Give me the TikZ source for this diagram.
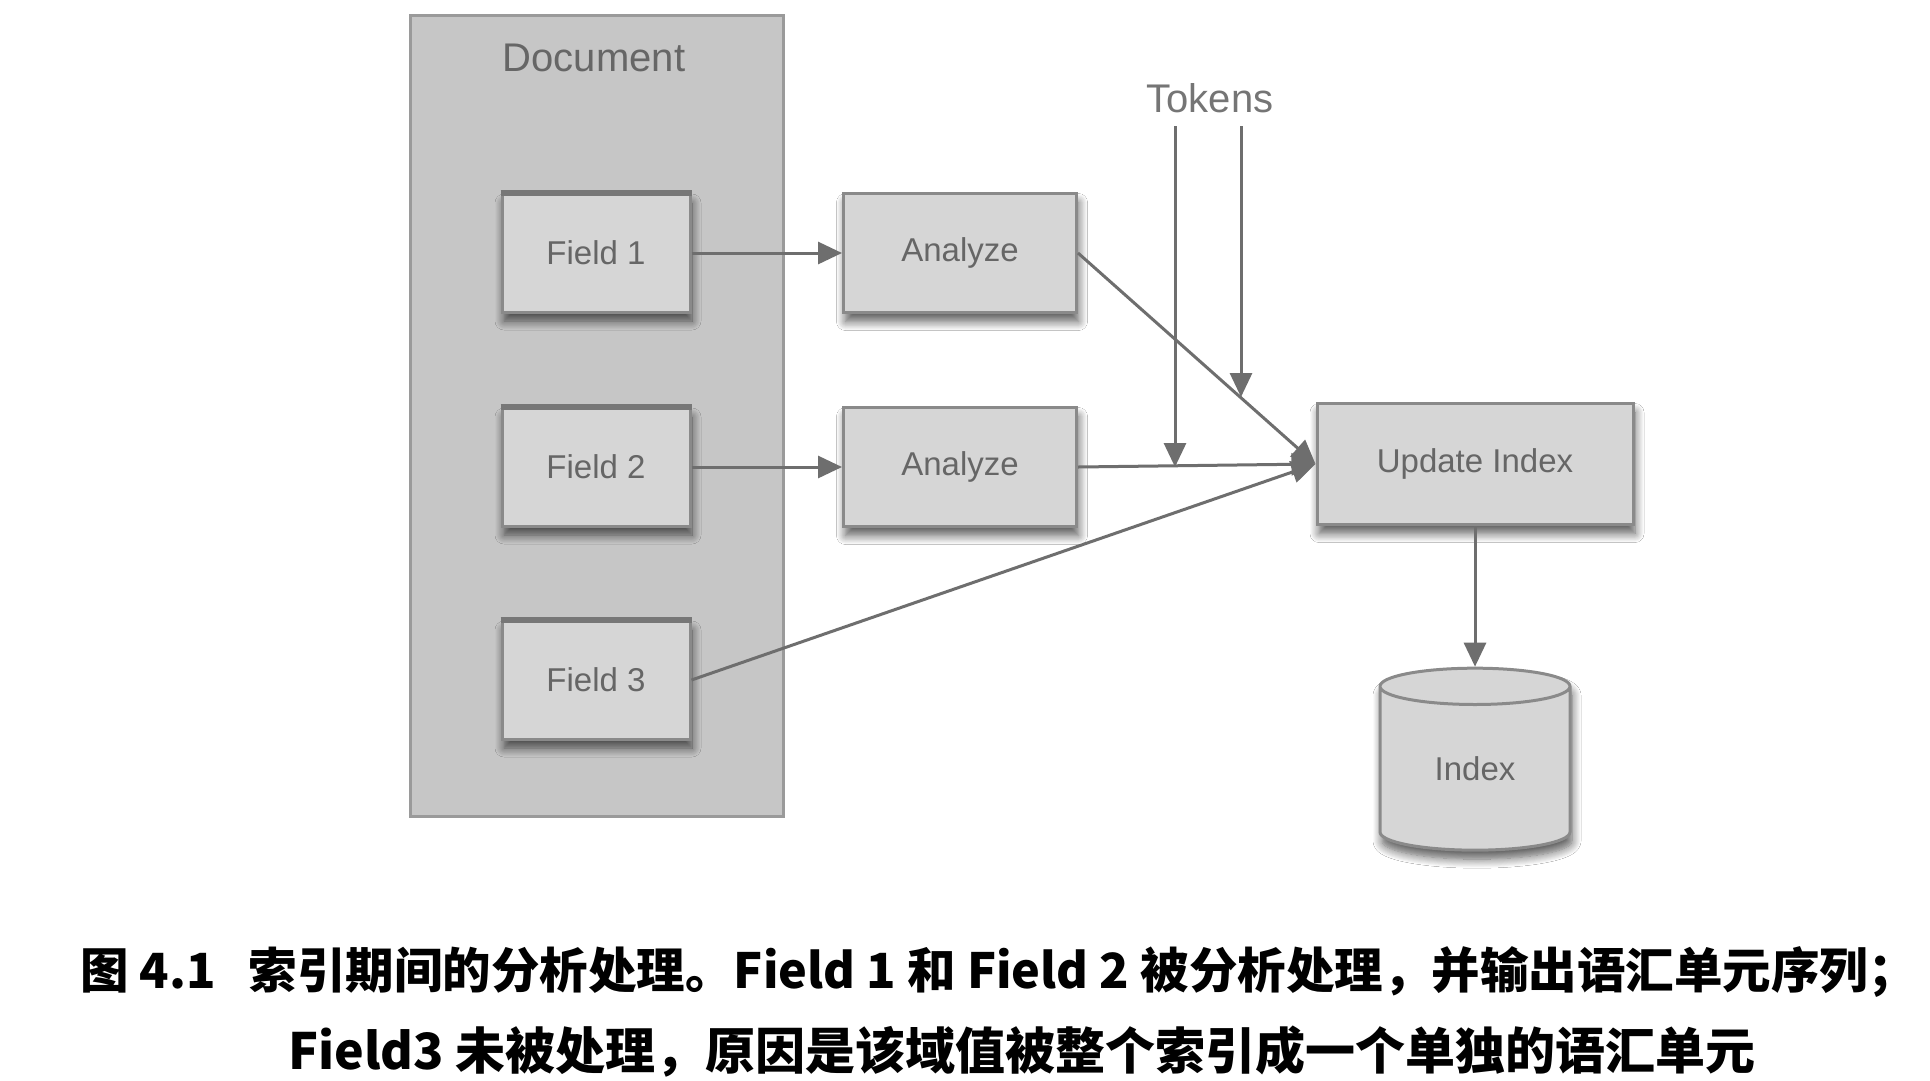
\documentclass[tikz,border=0pt]{standalone}
\usepackage{fontspec}
\setmainfont{Liberation Sans}
\newfontfamily\cjk{Noto Sans CJK SC}
\usetikzlibrary{arrows.meta,shapes.geometric,shadows.blur}
\definecolor{docfill}{HTML}{C6C6C6}
\definecolor{docdraw}{HTML}{9A9A9A}
\definecolor{boxfill}{HTML}{D6D6D6}
\definecolor{boxdraw}{HTML}{8A8A8A}
\definecolor{barcol}{HTML}{777777}
\definecolor{linecol}{HTML}{6E6E6E}
\definecolor{labcol}{HTML}{666666}
\tikzset{
  docbox/.style={draw=docdraw, fill=docfill, line width=3pt, inner sep=0pt},
  boxbase/.style={draw=boxdraw, fill=boxfill, line width=3pt, inner sep=0pt,
    text=labcol, font=\fontsize{33}{40}\selectfont,
    blur shadow={shadow xshift=2pt, shadow yshift=-9pt, shadow blur radius=9pt, shadow blur steps=10, shadow opacity=65}},
  fieldbox/.style={boxbase, minimum width=188pt, minimum height=118pt},
  anabox/.style={boxbase, minimum width=233pt, minimum height=119pt},
  updbox/.style={boxbase, minimum width=316pt, minimum height=121pt},
  topbar/.style={draw=barcol, line width=6pt},
  cyl/.style={boxbase, cylinder, shape border rotate=90, aspect=0.45,
    minimum width=190pt, minimum height=182pt},
  conn/.style={draw=linecol, line width=3pt, -{Triangle[length=24pt, width=22pt]}},
  plainlab/.style={text=labcol, font=\fontsize{40}{48}\selectfont, inner sep=0pt},
  captxt/.style={font=\cjk\bfseries, text=black, inner sep=0pt}
}
\begin{document}
\begin{tikzpicture}[x=1pt,y=-1pt]
\useasboundingbox[fill=white] (0,0) rectangle (1930,1080);

% Document container
\node[docbox, minimum width=373pt, minimum height=801pt] (doc) at (596.5,415.5) {};
\node[plainlab] (doclab) at (594,58) {Document};

% Fields
\node[fieldbox] (f1) at (596,253) {Field 1};
\node[fieldbox] (f2) at (596,467) {Field 2};
\node[fieldbox] (f3) at (596,680) {Field 3};
\draw[topbar] (f1.north west) -- (f1.north east);
\draw[topbar] (f2.north west) -- (f2.north east);
\draw[topbar] (f3.north west) -- (f3.north east);

% Analyzers
\node[anabox] (a1) at (960,253) {Analyze};
\node[anabox] (a2) at (960,467) {Analyze};

% Update index and index store
\node[updbox] (upd) at (1475,464) {Update Index};
\node[cyl] (idx) at (1475,769) {Index};

% Tokens
\node[plainlab, text=labcol!90] (tok) at (1210,98) {Tokens};
\coordinate (tk1s) at (1175,126);
\coordinate (tk1e) at (1175,467);
\coordinate (tk2s) at (1241,126);
\coordinate (tk2e) at (1241,397);

% Connectors
\draw[conn] (f1) -- (a1);
\draw[conn] (f2) -- (a2);
\draw[conn] (f3.east) -- (upd.west);
\draw[conn] (a2.east) -- (upd.west);
\draw[conn] (a1.east) -- (upd.west);
\draw[conn] (tk1s) -- (tk1e);
\draw[conn] (tk2s) -- (tk2e);
\draw[conn] (upd.south) -- (idx.north);

% Caption
\node[captxt, font=\cjk\bfseries\fontsize{48.5}{58}\selectfont, anchor=base west] (cap1) at (80,988)
  {图 4.1\hspace{33pt}索引期间的分析处理。Field 1 和 Field 2 被分析处理，并输出语汇单元序列；};
\node[captxt, font=\cjk\bfseries\fontsize{50}{60}\selectfont, anchor=base] (cap2) at (1022,1069)
  {Field3 未被处理，原因是该域值被整个索引成一个单独的语汇单元};
\end{tikzpicture}
\end{document}
